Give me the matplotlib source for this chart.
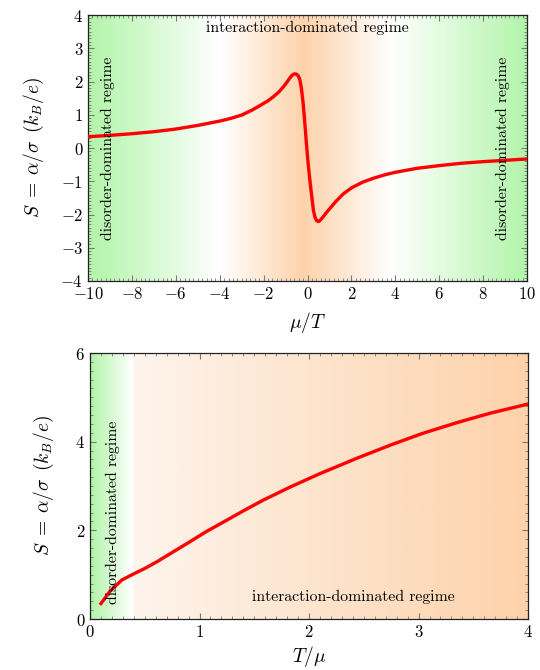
import numpy as np
import matplotlib
matplotlib.use("Agg")
import matplotlib.pyplot as plt
from matplotlib.ticker import MultipleLocator, AutoMinorLocator
from matplotlib.colors import LinearSegmentedColormap

plt.rcParams['font.family'] = 'cmr10'
plt.rcParams['mathtext.fontset'] = 'cm'
plt.rcParams['axes.formatter.use_mathtext'] = True
plt.rcParams['axes.unicode_minus'] = True

# top panel: S vs mu/T
mu_T = [-10, -9, -8, -7, -6, -5, -4, -3.5, -3, -2.5, -2.16, -1.8, -1.56, -1.3, -1.1,
        -0.95, -0.8, -0.7, -0.6, -0.5, -0.42, -0.35, -0.28, -0.2, -0.12, -0.04,
        0.04, 0.12, 0.2, 0.27, 0.34, 0.42, 0.5, 0.57, 0.7, 0.85, 1.03, 1.3, 1.63,
        2, 2.5, 3, 3.5, 4, 5, 6, 7, 8, 9, 10]
S_top = [0.34, 0.38, 0.43, 0.49, 0.57, 0.68, 0.81, 0.89, 0.99, 1.15, 1.28, 1.42, 1.54, 1.69, 1.84,
         1.97, 2.11, 2.19, 2.23, 2.22, 2.17, 2.05, 1.8, 1.35, 0.72, 0.05,
         -0.55, -1.05, -1.5, -1.88, -2.08, -2.19, -2.21, -2.18, -2.08, -1.95, -1.81, -1.6, -1.38,
         -1.2, -1.03, -0.91, -0.81, -0.73, -0.61, -0.53, -0.46, -0.41, -0.37, -0.33]

# bottom panel: S vs T/mu
T_mu = [0.1, 0.18, 0.29, 0.4, 0.5, 0.61, 0.75, 0.91, 1.06, 1.22, 1.4, 1.58, 1.83, 2.1,
        2.44, 2.75, 3.04, 3.35, 3.65, 4.0]
S_bot = [0.35, 0.62, 0.88, 1.02, 1.14, 1.29, 1.5, 1.74, 1.97, 2.19, 2.44, 2.68, 2.98, 3.28,
         3.63, 3.93, 4.19, 4.43, 4.64, 4.85]

green = '#b2f5aa'
orange = '#fdd2aa'
ylab = r'$S\;=\;\alpha/\sigma\ \,(k_B/e)$'
fs_txt = 11.3


def style(ax):
    ax.tick_params(which='both', direction='in', top=True, right=True,
                   color='#777777', labelsize=12)
    ax.tick_params(which='major', length=4.5)
    ax.tick_params(which='minor', length=2.5)
    for s in ax.spines.values():
        s.set_color('#222222')
        s.set_linewidth(0.9)


fig = plt.figure(figsize=(5.4, 6.7), dpi=100)

# ---- top
ax1 = fig.add_axes([0.163, 0.5806, 0.813, 0.397])
cm1 = LinearSegmentedColormap.from_list('c1', [(0, green), (0.3, 'white'), (0.49, orange),
                                               (0.69, 'white'), (1, green)])
grad = np.linspace(0, 1, 400).reshape(1, -1)
ax1.imshow(grad, cmap=cm1, aspect='auto', extent=[-10, 10, -4, 4], zorder=0)
ax1.plot(mu_T, S_top, color='red', lw=2.4, zorder=3)
ax1.set_xlim(-10, 10)
ax1.set_ylim(-4, 4)
ax1.xaxis.set_major_locator(MultipleLocator(2))
ax1.xaxis.set_minor_locator(AutoMinorLocator(10))
ax1.yaxis.set_major_locator(MultipleLocator(1))
ax1.yaxis.set_minor_locator(AutoMinorLocator(10))
style(ax1)
ax1.set_xlabel(r'$\mu/T$', fontsize=14, labelpad=6)
ax1.set_ylabel(ylab, fontsize=14, labelpad=10)
ax1.text(0, 3.62, 'interaction-dominated regime', ha='center', va='center', fontsize=fs_txt)
ax1.text(-9.1, 0.0, 'disorder-dominated regime', rotation=90, ha='center', va='center',
         fontsize=fs_txt)
ax1.text(8.9, 0.0, 'disorder-dominated regime', rotation=90, ha='center', va='center',
         fontsize=fs_txt)

# ---- bottom
ax2 = fig.add_axes([0.1667, 0.0761, 0.8113, 0.397])
cm2 = LinearSegmentedColormap.from_list('c2', [(0, green), (0.095, 'white'), (0.1, '#fdf4ec'),
                                               (1, orange)])
ax2.imshow(grad, cmap=cm2, aspect='auto', extent=[0, 4, 0, 6], zorder=0)
ax2.plot(T_mu, S_bot, color='red', lw=2.4, zorder=3)
ax2.set_xlim(0, 4)
ax2.set_ylim(0, 6)
ax2.xaxis.set_major_locator(MultipleLocator(1))
ax2.xaxis.set_minor_locator(AutoMinorLocator(10))
ax2.yaxis.set_major_locator(MultipleLocator(2))
ax2.yaxis.set_minor_locator(AutoMinorLocator(10))
style(ax2)
ax2.set_xlabel(r'$T/\mu$', fontsize=14, labelpad=3)
ax2.set_ylabel(ylab, fontsize=14, labelpad=14)
ax2.text(2.4, 0.5, 'interaction-dominated regime', ha='center', va='center', fontsize=fs_txt)
ax2.text(0.21, 2.4, 'disorder-dominated regime', rotation=90, ha='center', va='center',
         fontsize=fs_txt)

fig.savefig('out.png', dpi=100)
